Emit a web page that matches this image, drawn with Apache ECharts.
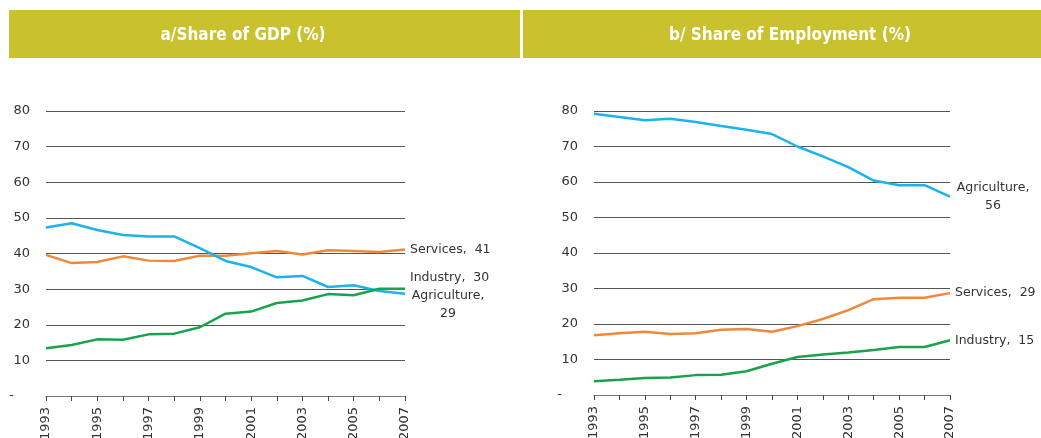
<!DOCTYPE html>
<html><head><meta charset="utf-8">
<script src="https://cdn.jsdelivr.net/npm/echarts@6/dist/echarts.min.js"></script>
<style>html,body{margin:0;padding:0;background:#fff}#c{width:1041px;height:438px}</style>
</head><body><div id="c"></div>
<script>
const years = ['1993','1994','1995','1996','1997','1998','1999','2000','2001','2002','2003','2004','2005','2006','2007'];
const yTicks = [0,10,20,30,40,50,60,70,80];
const titleA = 'a/Share of GDP (%)';
const titleB = 'b/ Share of Employment (%)';
// Panel a: share of GDP
const gdpAgriculture = [47.3,48.5,46.6,45.2,44.8,44.8,41.5,37.9,36.2,33.3,33.7,30.6,31.1,29.5,28.7];
const gdpServices    = [39.6,37.3,37.6,39.2,38.0,37.9,39.4,39.4,40.1,40.7,39.7,40.9,40.7,40.4,41.1];
const gdpIndustry    = [13.4,14.3,15.9,15.8,17.3,17.5,19.3,23.1,23.7,26.1,26.8,28.6,28.3,30.1,30.1];
// Panel b: share of employment
const empAgriculture = [79.2,78.3,77.4,77.8,76.9,75.8,74.7,73.5,70.0,67.2,64.2,60.4,59.1,59.1,55.9];
const empServices    = [16.8,17.4,17.8,17.2,17.4,18.4,18.6,17.8,19.4,21.4,23.9,27.0,27.4,27.4,28.7];
const empIndustry    = [3.9,4.3,4.8,4.9,5.6,5.7,6.7,8.8,10.7,11.4,12.0,12.7,13.5,13.5,15.4];
// End-label values (as printed)
const gdpEnd = {Services:41, Industry:30, Agriculture:29};
const empEnd = {Agriculture:56, Services:29, Industry:15};

const C = {Agriculture:'#1bb3ec', Services:'#f0883c', Industry:'#19a24e'};
const FONT = 'DejaVu Sans';

function xAxis(i){
  return {type:'category', gridIndex:i, data:years, boundaryGap:false,
    axisLine:{lineStyle:{color:'#7a7a7a',width:1}},
    axisTick:{show:true,interval:0,length:5,lineStyle:{color:'#444'}},
    axisLabel:{rotate:90,interval:1,color:'#333',fontFamily:FONT,fontSize:13,margin:11}};
}
function yAxis(i){
  return {type:'value', gridIndex:i, min:0, max:80, interval:10,
    axisLine:{show:false}, axisTick:{show:false},
    splitLine:{lineStyle:{color:'#555',width:1}},
    axisLabel:{color:'#333',fontFamily:FONT,fontSize:13,margin:16,
      formatter:v=>v===0?'{d|-}':String(v),
      rich:{d:{padding:[0,16,0,0],fontSize:13,color:'#333'}}}};
}
function line(name,data,i,label,offset){
  return {type:'line', name, data, xAxisIndex:i, yAxisIndex:i, symbol:'none', smooth:false,
    lineStyle:{color:C[name],width:2.5}, itemStyle:{color:C[name]},
    endLabel:{show:true, distance:5, offset:offset||[0,0], formatter:label,
      color:'#333', fontFamily:FONT, fontSize:12.5, lineHeight:18,
      rich:{c:{width:76,align:'center',fontFamily:FONT,fontSize:12.5,color:'#333',lineHeight:18}}}};
}

const chart = echarts.init(document.getElementById('c'), null, {renderer:'canvas'});
chart.setOption({
  animation:false,
  graphic:[
    {type:'rect', shape:{x:9,y:10,width:511,height:48}, style:{fill:'#c9c12d'}},
    {type:'rect', shape:{x:523,y:10,width:518,height:48}, style:{fill:'#c9c12d'}}
  ],
  title:[
    {text:titleA, left:238, top:22, textAlign:'center',
      textStyle:{color:'#fff',fontFamily:'DejaVu Sans Condensed, DejaVu Sans',fontWeight:'bold',fontSize:17}},
    {text:titleB, left:785, top:22, textAlign:'center',
      textStyle:{color:'#fff',fontFamily:'DejaVu Sans Condensed, DejaVu Sans',fontWeight:'bold',fontSize:17}}
  ],
  grid:[
    {left:46, right:636, top:111, bottom:42, containLabel:false, outerBoundsMode:'none'},
    {left:594, right:91, top:111, bottom:43, containLabel:false, outerBoundsMode:'none'}
  ],
  xAxis:[xAxis(0), xAxis(1)],
  yAxis:[yAxis(0), yAxis(1)],
  series:[
    line('Services', gdpServices, 0, 'Services,  '+gdpEnd.Services),
    line('Agriculture', gdpAgriculture, 0, '{c|Agriculture,}\n{c|'+gdpEnd.Agriculture+'}', [0,11]),
    line('Industry', gdpIndustry, 0, 'Industry,  '+gdpEnd.Industry, [0,-11]),
    line('Agriculture', empAgriculture, 1, '{c|Agriculture,}\n{c|'+empEnd.Agriculture+'}'),
    line('Services', empServices, 1, 'Services,  '+empEnd.Services),
    line('Industry', empIndustry, 1, 'Industry,  '+empEnd.Industry)
  ]
});
</script></body></html>
